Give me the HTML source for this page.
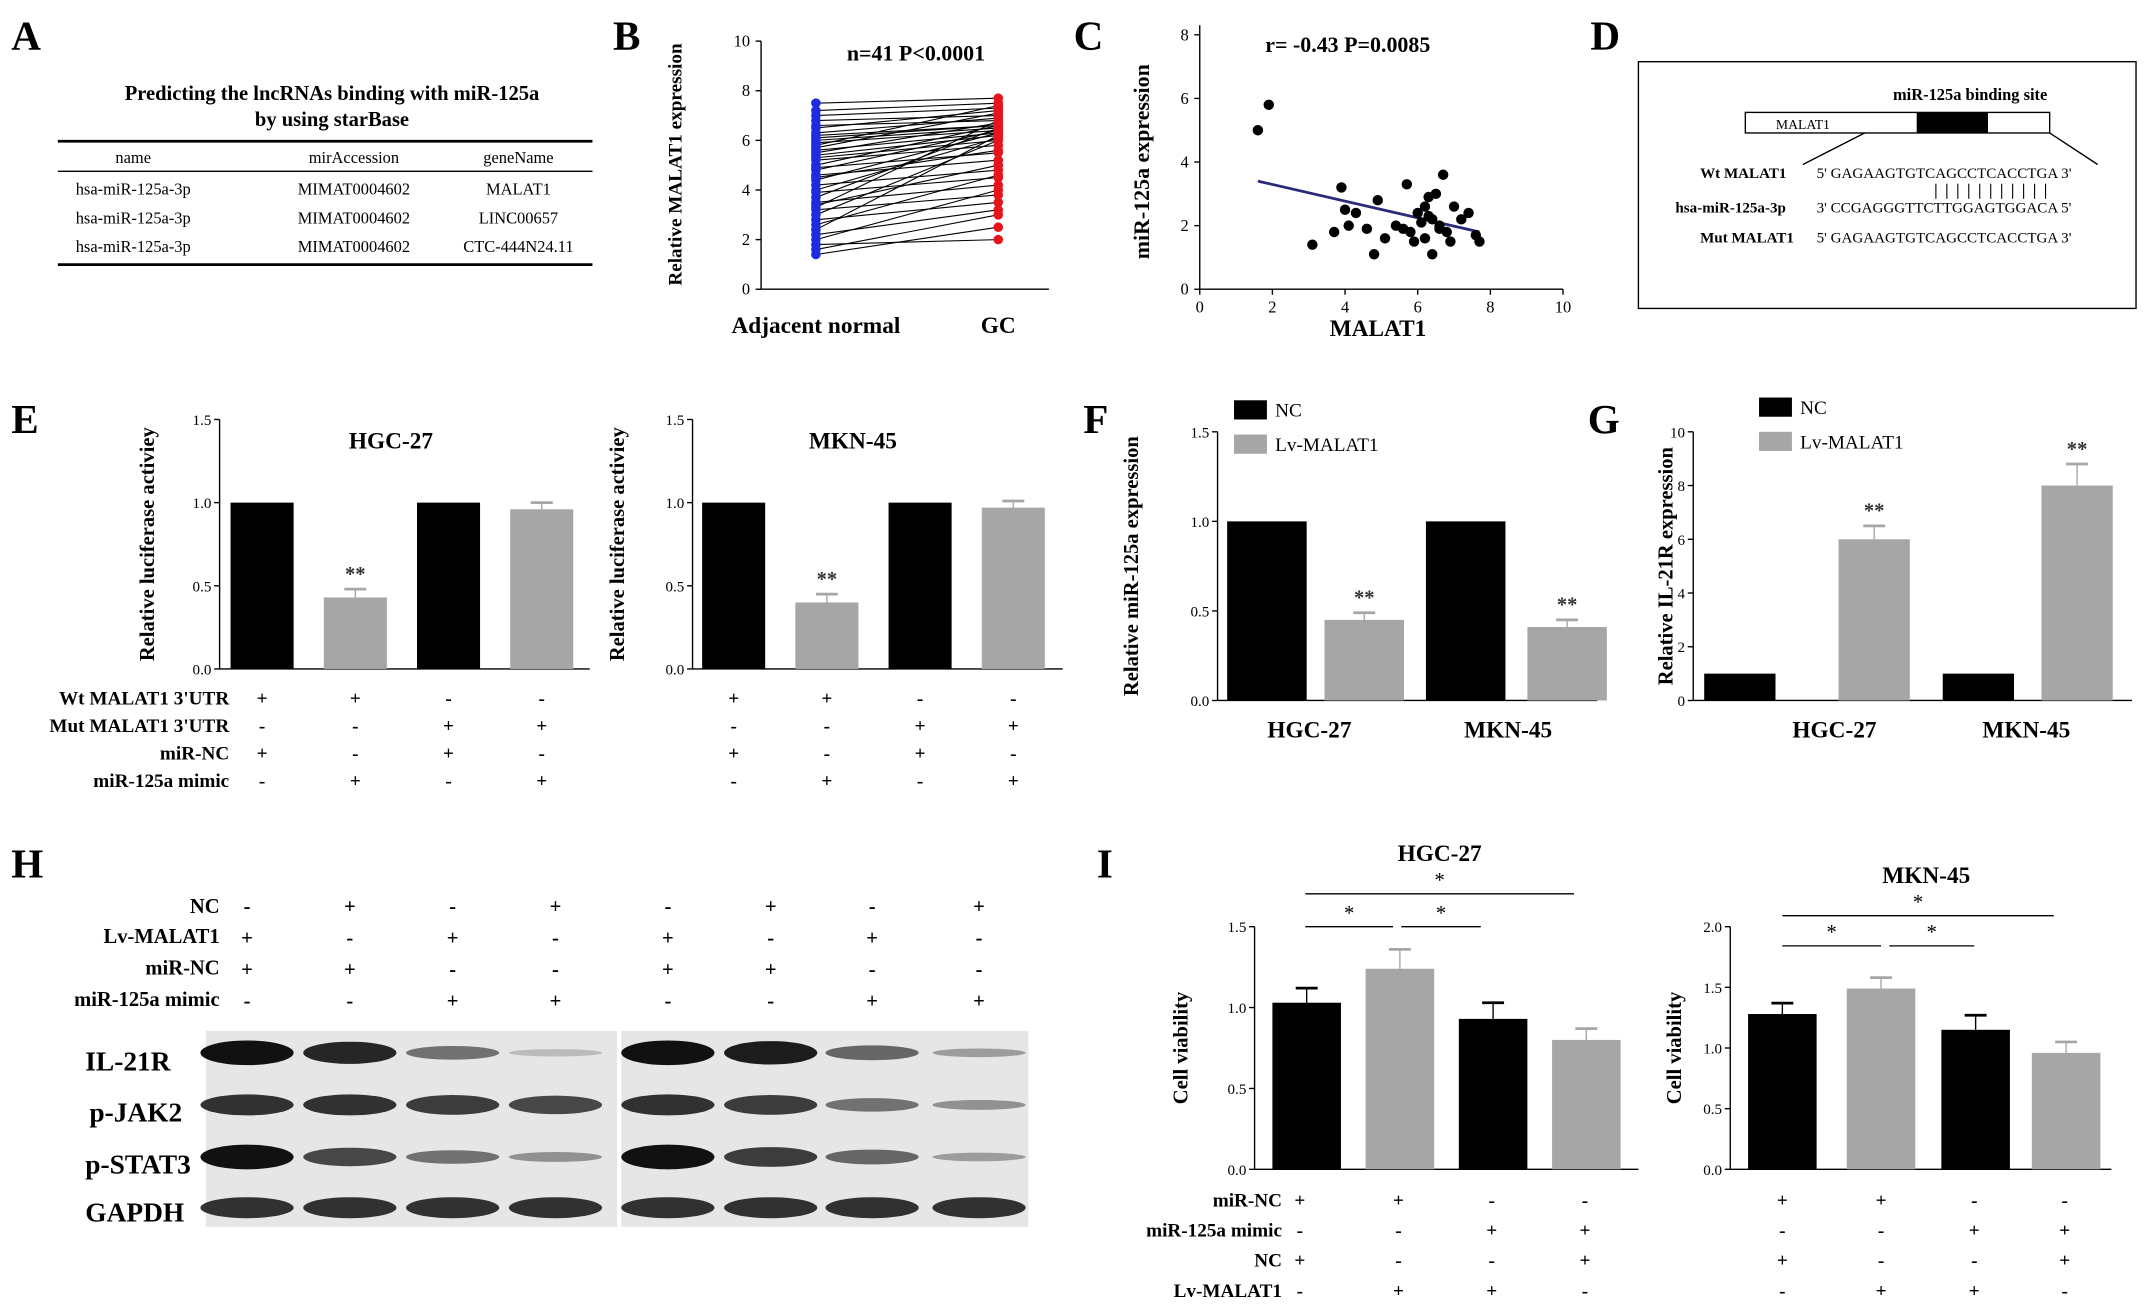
<!DOCTYPE html>
<html><head><meta charset="utf-8"><style>
html,body{margin:0;padding:0;background:#fff}
svg{display:block;font-family:"Liberation Serif",serif}
</style></head><body>
<svg id="fig" width="2150" height="1316" viewBox="0 0 1568 960" xmlns="http://www.w3.org/2000/svg">
<g font-weight="bold" font-size="30">
<text x="8" y="36">A</text><text x="447" y="36">B</text><text x="783" y="36">C</text><text x="1160" y="36">D</text>
<text x="8" y="316">E</text><text x="790" y="316">F</text><text x="1158" y="316">G</text>
<text x="8" y="640">H</text><text x="800" y="640">I</text></g>

<g font-size="12">
<text x="242" y="73" text-anchor="middle" font-weight="bold" font-size="15">Predicting the lncRNAs binding with miR-125a</text>
<text x="242" y="92" text-anchor="middle" font-weight="bold" font-size="15">by using starBase</text>
<line x1="42" y1="103" x2="432" y2="103" stroke="#000" stroke-width="2"/>
<line x1="42" y1="125" x2="432" y2="125" stroke="#000" stroke-width="1"/>
<line x1="42" y1="193" x2="432" y2="193" stroke="#000" stroke-width="2"/>
<text x="97" y="119" text-anchor="middle">name</text><text x="258" y="119" text-anchor="middle">mirAccession</text><text x="378" y="119" text-anchor="middle">geneName</text>
<text x="97" y="142" text-anchor="middle">hsa-miR-125a-3p</text><text x="258" y="142" text-anchor="middle">MIMAT0004602</text><text x="378" y="142" text-anchor="middle">MALAT1</text>
<text x="97" y="163" text-anchor="middle">hsa-miR-125a-3p</text><text x="258" y="163" text-anchor="middle">MIMAT0004602</text><text x="378" y="163" text-anchor="middle">LINC00657</text>
<text x="97" y="184" text-anchor="middle">hsa-miR-125a-3p</text><text x="258" y="184" text-anchor="middle">MIMAT0004602</text><text x="378" y="184" text-anchor="middle">CTC-444N24.11</text>
</g>

<g font-size="11">
<rect x="1195" y="45" width="363" height="180" fill="none" stroke="#000"/>
<text x="1437" y="73" text-anchor="middle" font-weight="bold" font-size="12">miR-125a binding site</text>
<rect x="1273" y="82" width="222" height="15" fill="#fff" stroke="#000"/>
<rect x="1398" y="82" width="52" height="15" fill="#000"/>
<text x="1315" y="94" text-anchor="middle" font-size="10">MALAT1</text>
<line x1="1360" y1="97" x2="1315" y2="120" stroke="#000"/><line x1="1495" y1="97" x2="1530" y2="120" stroke="#000"/>
<text x="1240" y="130" font-weight="bold">Wt MALAT1</text><text x="1325" y="130">5' GAGAAGTGTCAGCCTCACCTGA 3'</text>
<text x="1222" y="155" font-weight="bold">hsa-miR-125a-3p</text><text x="1325" y="155">3' CCGAGGGTTCTTGGAGTGGACA 5'</text>
<text x="1240" y="177" font-weight="bold">Mut MALAT1</text><text x="1325" y="177">5' GAGAAGTGTCAGCCTCACCTGA 3'</text>
<g stroke="#000" stroke-width="0.8"><line x1="1412" y1="134" x2="1412" y2="145"/><line x1="1420" y1="134" x2="1420" y2="145"/><line x1="1428" y1="134" x2="1428" y2="145"/><line x1="1436" y1="134" x2="1436" y2="145"/><line x1="1444" y1="134" x2="1444" y2="145"/><line x1="1452" y1="134" x2="1452" y2="145"/><line x1="1460" y1="134" x2="1460" y2="145"/><line x1="1468" y1="134" x2="1468" y2="145"/><line x1="1476" y1="134" x2="1476" y2="145"/><line x1="1484" y1="134" x2="1484" y2="145"/><line x1="1492" y1="134" x2="1492" y2="145"/></g>
</g>

<g id="charts"></g>

<g>
<g font-size="15" font-weight="bold" text-anchor="end">
<text x="160" y="666">NC</text><text x="160" y="688">Lv-MALAT1</text><text x="160" y="711">miR-NC</text><text x="160" y="734">miR-125a mimic</text>
<text x="138" y="780" font-size="19" text-anchor="start" x2="0"> </text>
</g>
<g font-size="20" font-weight="bold"><text x="62" y="781">IL-21R</text><text x="65" y="818">p-JAK2</text><text x="62" y="856">p-STAT3</text><text x="62" y="891">GAPDH</text></g>
<g id="blots"></g>
</g>
</svg>
<script>
const NS="http://www.w3.org/2000/svg";
function mk(t,a,p,name){const e=document.createElementNS(NS,t);for(const k in a)e.setAttribute(k,a[k]);


p.appendChild(e);return e;}
function txt(p,x,y,s,o,name){const e=mk('text',Object.assign({x:x,y:y},o||{}),p,name||'label');e.textContent=s;return e;}
const C=document.getElementById('charts');

// ---- Panel B data ----
const bNormal=[7.5,7.2,7.0,6.8,6.6,6.5,6.3,6.2,6.0,5.9,5.8,5.6,5.5,5.4,5.3,5.2,5.0,4.9,4.8,4.6,4.4,4.2,4.0,3.9,3.7,3.5,3.4,3.3,3.2,3.0,2.8,2.6,2.4,2.2,2.0,1.8,1.6,1.4,5.7,6.1,4.5];
const bGC=[7.7,7.5,7.3,7.0,6.8,7.2,6.9,6.6,6.5,6.4,7.4,6.3,6.7,6.2,6.0,5.8,6.6,5.5,6.4,5.2,6.3,4.8,6.1,4.5,6.5,4.2,5.0,6.8,3.8,6.0,3.5,4.6,6.2,3.2,4.0,2.0,3.0,2.5,7.1,6.6,5.6];
const bTicks=[0,2,4,6,8,10];
{const g=mk('g',{},C,'panel-b-chart');const x0=555,y0=211,sy=18.1;const Y=v=>y0-v*sy;
mk('line',{x1:x0,y1:Y(10),x2:x0,y2:y0,stroke:'#000'},g,'y-axis');mk('line',{x1:x0,y1:y0,x2:765,y2:y0,stroke:'#000'},g,'x-axis');
bTicks.forEach(t=>{mk('line',{x1:x0-4,x2:x0,y1:Y(t),y2:Y(t),stroke:'#000'},g,'tick');txt(g,x0-8,Y(t)+4,t,{'font-size':12,'text-anchor':'end'},'y-tick-label');});
const xa=595,xb=728;
bNormal.forEach((v,i)=>{mk('line',{x1:xa,y1:Y(v),x2:xb,y2:Y(bGC[i]),stroke:'#000','stroke-width':0.8},g,'pair-line');});
bNormal.forEach(v=>mk('circle',{cx:xa,cy:Y(v),r:3.5,fill:'#1f2be0'},g,'normal-point'));
bGC.forEach(v=>mk('circle',{cx:xb,cy:Y(v),r:3.5,fill:'#e8141c'},g,'gc-point'));
txt(g,595,243,'Adjacent normal',{'font-size':17,'font-weight':'bold','text-anchor':'middle'},'x-label-normal');
txt(g,728,243,'GC',{'font-size':17,'font-weight':'bold','text-anchor':'middle'},'x-label-gc');
txt(g,668,44,'n=41  P<0.0001',{'font-size':16,'font-weight':'bold','text-anchor':'middle'},'panel-b-title');
txt(g,0,0,'Relative MALAT1 expression',{'font-size':14,'font-weight':'bold','text-anchor':'middle',transform:'translate(497,120) rotate(-90)'},'y-axis-title');}

// ---- Panel C data ----
const cX=[1.6,1.9,3.1,3.7,3.9,4.1,4.3,4.6,4.8,4.9,5.1,5.6,5.7,5.8,5.9,6.0,6.1,6.2,6.2,6.3,6.4,6.4,6.5,6.6,6.7,6.8,6.9,7.0,7.2,7.4,7.6,7.7,4.0,5.4,6.3,6.6];
const cY=[5.0,5.8,1.4,1.8,3.2,2.0,2.4,1.9,1.1,2.8,1.6,1.9,3.3,1.8,1.5,2.4,2.1,2.6,1.6,2.9,1.1,2.2,3.0,2.0,3.6,1.8,1.5,2.6,2.2,2.4,1.7,1.5,2.5,2.0,2.3,1.9];
const cFit=[1.6,3.4,7.7,1.8];
const cXT=[0,2,4,6,8,10],cYT=[0,2,4,6,8];
{const g=mk('g',{},C,'panel-c-chart');const X=v=>875+v*26.5,Y=v=>211-v*23.2;
mk('line',{x1:X(0),y1:Y(8.3),x2:X(0),y2:Y(0),stroke:'#000'},g,'y-axis');mk('line',{x1:X(0),y1:Y(0),x2:X(10),y2:Y(0),stroke:'#000'},g,'x-axis');
cXT.forEach(t=>{mk('line',{x1:X(t),x2:X(t),y1:Y(0),y2:Y(0)+4,stroke:'#000'},g,'tick');txt(g,X(t),Y(0)+17,t,{'font-size':12,'text-anchor':'middle'},'x-tick-label');});
cYT.forEach(t=>{mk('line',{x1:X(0)-4,x2:X(0),y1:Y(t),y2:Y(t),stroke:'#000'},g,'tick');txt(g,X(0)-8,Y(t)+4,t,{'font-size':12,'text-anchor':'end'},'y-tick-label');});
mk('line',{x1:X(cFit[0]),y1:Y(cFit[1]),x2:X(cFit[2]),y2:Y(cFit[3]),stroke:'#2a2a7a','stroke-width':2},g,'fit-line');
cX.forEach((v,i)=>mk('circle',{cx:X(v),cy:Y(cY[i]),r:3.8,fill:'#000'},g,'scatter-point'));
txt(g,1005,245,'MALAT1',{'font-size':17,'font-weight':'bold','text-anchor':'middle'},'x-axis-title');
txt(g,983,38,'r= -0.43  P=0.0085',{'font-size':16,'font-weight':'bold','text-anchor':'middle'},'panel-c-title');
txt(g,0,0,'miR-125a expression',{'font-size':16,'font-weight':'bold','text-anchor':'middle',transform:'translate(838,118) rotate(-90)'},'y-axis-title');}

// ---- bar charts ----
function bars(o){const g=mk('g',{},C,o.name);const Y=v=>o.y0-(v/o.max)*(o.y0-o.ytop);
mk('line',{x1:o.x0,y1:o.ytop,x2:o.x0,y2:o.y0,stroke:'#000'},g,'y-axis');mk('line',{x1:o.x0,y1:o.y0,x2:o.x1,y2:o.y0,stroke:'#000'},g,'x-axis');
o.ticks.forEach(t=>{mk('line',{x1:o.x0-4,x2:o.x0,y1:Y(t),y2:Y(t),stroke:'#000'},g,'tick');txt(g,o.x0-6,Y(t)+4,o.tl?o.tl(t):t,{'font-size':11,'text-anchor':'end'},'y-tick-label');});
o.vals.forEach((v,i)=>{const x=o.bx[i],c=o.cols[i];
if(o.err&&o.err[i]>0){mk('line',{x1:x+o.w/2,x2:x+o.w/2,y1:Y(v),y2:Y(v+o.err[i]),stroke:c},g,'error-bar');mk('line',{x1:x+o.w/2-8,x2:x+o.w/2+8,y1:Y(v+o.err[i]),y2:Y(v+o.err[i]),stroke:c,'stroke-width':2},g,'error-cap');}
mk('rect',{x:x,y:Y(v),width:o.w,height:o.y0-Y(v),fill:c},g,'bar');
if(o.stars&&o.stars[i])txt(g,x+o.w/2,Y(v+(o.err?o.err[i]:0))-6,o.stars[i],{'font-size':15,'font-weight':'bold','text-anchor':'middle',fill:'#333'},'significance-stars');});
txt(g,0,0,o.ylab,{'font-size':15,'font-weight':'bold','text-anchor':'middle',transform:`translate(${o.ylx},${(o.ytop+o.y0)/2}) rotate(-90)`},'y-axis-title');
if(o.title)txt(g,o.tx,o.ty,o.title,{'font-size':17,'font-weight':'bold','text-anchor':'middle'},'chart-title');
return {g,Y};}
const K='#000',Gr='#a6a6a6',cols4=[K,Gr,K,Gr];
const f1=v=>v.toFixed(1);
// E
const eHGC=[1,0.43,1,0.96],eHGCerr=[0,0.05,0,0.04];
const eMKN=[1,0.40,1,0.97],eMKNerr=[0,0.05,0,0.04];
const eTicks=[0,0.5,1,1.5];
bars({name:'panel-e-hgc27',x0:160,x1:430,y0:488,ytop:306,max:1.5,ticks:eTicks,tl:f1,vals:eHGC,err:eHGCerr,bx:[168,236,304,372],w:46,cols:cols4,stars:['','**','',''],ylab:'Relative luciferase activiey',ylx:112,title:'HGC-27',tx:285,ty:327});
bars({name:'panel-e-mkn45',x0:505,x1:775,y0:488,ytop:306,max:1.5,ticks:eTicks,tl:f1,vals:eMKN,err:eMKNerr,bx:[512,580,648,716],w:46,cols:cols4,stars:['','**','',''],ylab:'Relative luciferase activiey',ylx:455,title:'MKN-45',tx:622,ty:327});
{const g=mk('g',{'font-size':14,'font-weight':'bold'},C,'panel-e-conditions');
const rows=['Wt MALAT1 3\'UTR','Mut MALAT1 3\'UTR','miR-NC','miR-125a mimic'];
const signs=[['+','+','-','-'],['-','-','+','+'],['+','-','+','-'],['-','+','-','+']];
rows.forEach((r,i)=>{txt(g,167,514+i*20,r,{'text-anchor':'end'},'condition-label');
[191,259,327,395,535,603,671,739].forEach((x,j)=>txt(g,x,514+i*20,signs[i][j%4],{'text-anchor':'middle'},'condition-sign'));});}
// F
const fVals=[1,0.45,1,0.41],fErr=[0,0.04,0,0.04];
bars({name:'panel-f',x0:888,x1:1165,y0:511,ytop:315,max:1.5,ticks:eTicks,tl:f1,vals:fVals,err:fErr,bx:[895,966,1040,1114],w:58,cols:cols4,stars:['','**','','**'],ylab:'Relative miR-125a expression',ylx:830});
// G
const gVals=[1,6,1,8],gErr=[0,0.5,0,0.8];
bars({name:'panel-g',x0:1235,x1:1555,y0:511,ytop:315,max:10,ticks:[0,2,4,6,8,10],vals:gVals,err:gErr,bx:[1243,1341,1417,1489],w:52,cols:cols4,stars:['','**','','**'],ylab:'Relative IL-21R expression',ylx:1220});
{const g=mk('g',{'font-size':17,'font-weight':'bold','text-anchor':'middle'},C,'fg-x-labels');
txt(g,955,538,'HGC-27');txt(g,1100,538,'MKN-45');txt(g,1338,538,'HGC-27');txt(g,1478,538,'MKN-45');
const L=mk('g',{'font-size':14,'font-weight':'normal'},C,'legends');
[[900,292],[1283,290]].forEach(([x,y])=>{mk('rect',{x:x,y:y,width:24,height:14,fill:K},L,'legend-swatch-nc');txt(L,x+30,y+12,'NC',{},'legend-nc');
mk('rect',{x:x,y:y+25,width:24,height:14,fill:Gr},L,'legend-swatch-lv');txt(L,x+30,y+37,'Lv-MALAT1',{},'legend-lv');});}
// I
const iHGC=[1.03,1.24,0.93,0.80],iHGCerr=[0.09,0.12,0.10,0.07];
const iMKN=[1.28,1.49,1.15,0.96],iMKNerr=[0.09,0.09,0.12,0.09];
bars({name:'panel-i-hgc27',x0:915,x1:1195,y0:853,ytop:676,max:1.5,ticks:eTicks,tl:f1,vals:iHGC,err:iHGCerr,bx:[928,996,1064,1132],w:50,cols:cols4,ylab:'Cell viability',ylx:866,title:'HGC-27',tx:1050,ty:628});
bars({name:'panel-i-mkn45',x0:1262,x1:1540,y0:853,ytop:676,max:2,ticks:[0,0.5,1,1.5,2],tl:f1,vals:iMKN,err:iMKNerr,bx:[1275,1347,1416,1482],w:50,cols:cols4,ylab:'Cell viability',ylx:1226,title:'MKN-45',tx:1405,ty:644});
{const g=mk('g',{stroke:'#000'},C,'panel-i-significance');
[[952,1016,676],[1022,1080,676],[952,1148,652],[1300,1372,690],[1378,1440,690],[1300,1498,668]].forEach(([a,b,y])=>{mk('line',{x1:a,x2:b,y1:y,y2:y},g,'sig-line');txt(g,(a+b)/2,y-5,'*',{'font-size':15,stroke:'none','text-anchor':'middle'},'sig-star');});
const t=mk('g',{'font-size':14,'font-weight':'bold'},C,'panel-i-conditions');
const rows=['miR-NC','miR-125a mimic','NC','Lv-MALAT1'];
const s=[['+','+','-','-'],['-','-','+','+'],['+','-','-','+'],['-','+','+','-']];
rows.forEach((r,i)=>{txt(t,935,880+i*22,r,{'text-anchor':'end'},'condition-label');
[948,1020,1088,1156,1300,1372,1440,1506].forEach((x,j)=>txt(t,x,880+i*22,s[i][j%4],{'text-anchor':'middle'},'condition-sign'));});}
// H blots
{const B=document.getElementById('blots');
const s=[['-','+','-','+'],['+','-','+','-'],['+','+','-','-'],['-','-','+','+']];
const xs=[180,255,330,405,487,562,636,714];
s.forEach((r,i)=>xs.forEach((x,j)=>txt(B,x,666+i*23,r[j%4],{'font-size':15,'font-weight':'bold','text-anchor':'middle'},'blot-sign')));
const il=[1,0.9,0.55,0.2,1,0.95,0.6,0.35],jak=[0.85,0.85,0.8,0.75,0.85,0.8,0.55,0.4],st=[1,0.75,0.55,0.4,1,0.8,0.6,0.35],gp=[0.85,0.85,0.85,0.85,0.85,0.85,0.85,0.85];
const rowsY=[768,806,844,881];
[[150,450],[453,750]].forEach(([a,b])=>mk('rect',{x:a,y:752,width:b-a,height:143,fill:'#e6e6e6'},B,'blot-membrane'));
[il,jak,st,gp].forEach((arr,r)=>arr.forEach((v,j)=>mk('ellipse',{cx:xs[j],cy:rowsY[r],rx:34,ry:9*Math.max(v,0.3),fill:'#111','fill-opacity':v},B,'blot-band')));}
</script>
</body></html>
